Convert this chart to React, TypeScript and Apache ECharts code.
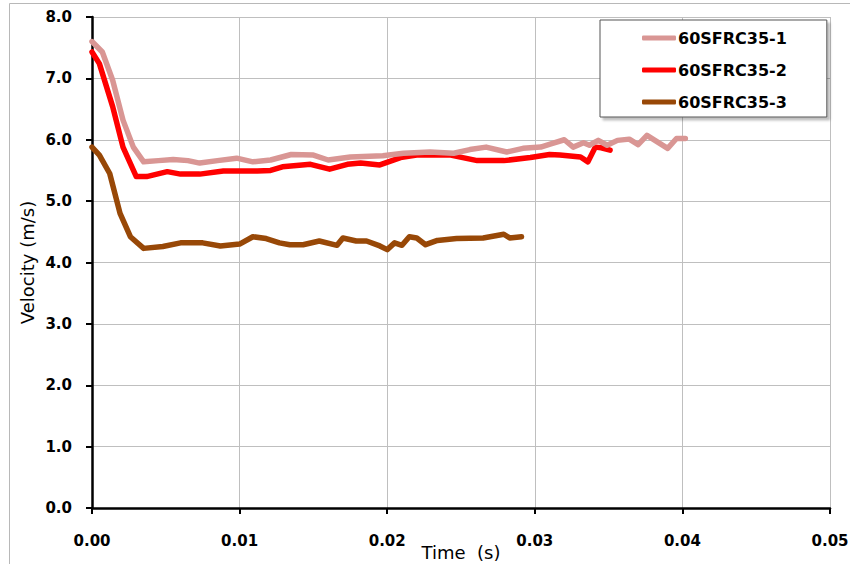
import React, { useEffect, useRef } from "react";
import * as echarts from "echarts";

const seriesNames = ["60SFRC35-1", "60SFRC35-2", "60SFRC35-3"];
const seriesColors = ["#D99694", "#FF0000", "#984807"];

const time1 = [0, 0.0007, 0.0014, 0.0021, 0.0028, 0.0035, 0.0045, 0.0055, 0.0065, 0.0073, 0.0085, 0.0098, 0.0109, 0.0121, 0.0135, 0.015, 0.016, 0.0175, 0.0197, 0.0211, 0.0229, 0.0245, 0.0256, 0.0267, 0.0281, 0.0292, 0.0304, 0.0312, 0.032, 0.0326, 0.0333, 0.0337, 0.0343, 0.0349, 0.0356, 0.0364, 0.037, 0.0376, 0.039, 0.0396, 0.0402];
const vel1 = [7.6, 7.43, 6.97, 6.32, 5.88, 5.64, 5.66, 5.68, 5.66, 5.62, 5.66, 5.7, 5.64, 5.67, 5.76, 5.75, 5.67, 5.72, 5.74, 5.78, 5.8, 5.78, 5.84, 5.88, 5.8, 5.86, 5.88, 5.94, 6.0, 5.88, 5.95, 5.91, 5.99, 5.91, 5.99, 6.01, 5.92, 6.07, 5.86, 6.02, 6.02];

const time2 = [0, 0.0005, 0.0014, 0.0021, 0.003, 0.0037, 0.0051, 0.006, 0.0073, 0.0089, 0.0112, 0.0121, 0.0129, 0.0148, 0.0161, 0.0173, 0.0182, 0.0195, 0.0209, 0.022, 0.0243, 0.0261, 0.0279, 0.0297, 0.031, 0.0317, 0.0331, 0.0336, 0.0341, 0.0345, 0.0351];
const vel2 = [7.43, 7.24, 6.54, 5.88, 5.4, 5.4, 5.48, 5.44, 5.44, 5.49, 5.49, 5.5, 5.56, 5.6, 5.52, 5.6, 5.62, 5.59, 5.71, 5.75, 5.75, 5.66, 5.66, 5.71, 5.76, 5.75, 5.72, 5.64, 5.88, 5.87, 5.83];

const time3 = [0, 0.0005, 0.0012, 0.0019, 0.0026, 0.0035, 0.0048, 0.006, 0.0075, 0.0087, 0.01, 0.0109, 0.0118, 0.0127, 0.0134, 0.0143, 0.0154, 0.0166, 0.017, 0.0179, 0.0186, 0.0195, 0.02, 0.0205, 0.021, 0.0215, 0.022, 0.0226, 0.0234, 0.0247, 0.0265, 0.0279, 0.0283, 0.0291];
const vel3 = [5.88, 5.75, 5.45, 4.8, 4.42, 4.23, 4.26, 4.32, 4.32, 4.27, 4.3, 4.42, 4.39, 4.32, 4.29, 4.29, 4.35, 4.28, 4.4, 4.35, 4.35, 4.27, 4.21, 4.32, 4.28, 4.42, 4.4, 4.29, 4.36, 4.39, 4.4, 4.46, 4.4, 4.42];

const xTitle = "Time  (s)";
const yTitle = "Velocity (m/s)";

const pairs = (t: number[], v: number[]) => t.map((x, i) => [x, v[i]]);

export default function App() {
  const ref = useRef<HTMLDivElement>(null);
  useEffect(() => {
    if (!ref.current) return;
    const chart = echarts.init(ref.current, null, { renderer: "svg" });
    const times = [time1, time2, time3];
    const vels = [vel1, vel2, vel3];
    const font = "DejaVu Sans";
    chart.setOption({
      animation: false,
      backgroundColor: "#ffffff",
      graphic: [
        {
          type: "rect",
          shape: { x: 9.5, y: 3.5, width: 860, height: 580 },
          style: { fill: "none", stroke: "#b8b8b8", lineWidth: 1 },
          silent: true,
          z: -1,
        },
      ],
      grid: { left: 92, right: 20, top: 17, bottom: 56, containLabel: false, outerBoundsMode: "none" },
      legend: {
        orient: "vertical",
        left: 600,
        top: 20,
        data: seriesNames,
        icon: "roundRect",
        itemWidth: 34,
        itemHeight: 5,
        itemGap: 14,
        padding: [9, 40, 6, 42],
        borderColor: "#555555",
        borderWidth: 1,
        backgroundColor: "#ffffff",
        shadowColor: "rgba(0,0,0,0.25)",
        shadowOffsetX: 3,
        shadowOffsetY: 3,
        shadowBlur: 2,
        textStyle: { fontFamily: font, fontWeight: "bold", fontSize: 16, color: "#000", padding: [0, 0, 0, -3], lineHeight: 18 },
      },
      xAxis: {
        type: "value",
        min: 0,
        max: 0.05,
        interval: 0.01,
        name: xTitle,
        nameLocation: "middle",
        nameGap: 35,
        nameMoveOverlap: false,
        nameTextStyle: { fontFamily: font, fontSize: 18, color: "#000" },
        axisLine: { show: true, onZero: false, lineStyle: { color: "#000", width: 2.5 } },
        axisTick: { show: true, length: 6, inside: false, lineStyle: { color: "#000", width: 2 } },
        axisLabel: {
          fontFamily: font,
          fontWeight: "bold",
          fontSize: 15,
          color: "#000",
          margin: 25,
          formatter: (v: number) => v.toFixed(2),
        },
        splitLine: { show: true, lineStyle: { color: "#bfbfbf", width: 1 } },
      },
      yAxis: {
        type: "value",
        min: 0,
        max: 8,
        interval: 1,
        name: yTitle,
        nameLocation: "middle",
        nameGap: 56,
        nameRotate: 90,
        nameMoveOverlap: false,
        nameTextStyle: { fontFamily: font, fontSize: 18, color: "#000" },
        axisLine: { show: true, onZero: false, lineStyle: { color: "#000", width: 2.5 } },
        axisTick: { show: true, length: 6, inside: false, lineStyle: { color: "#000", width: 2 } },
        axisLabel: {
          fontFamily: font,
          fontWeight: "bold",
          fontSize: 15,
          color: "#000",
          margin: 20,
          formatter: (v: number) => v.toFixed(1),
        },
        splitLine: { show: true, lineStyle: { color: "#bfbfbf", width: 1 } },
      },
      series: seriesNames.map((name, i) => ({
        name,
        type: "line",
        data: pairs(times[i], vels[i]),
        symbol: "none",
        smooth: false,
        color: seriesColors[i],
        lineStyle: { color: seriesColors[i], width: 5.5, join: "round", cap: "round" },
        z: 3 - i,
      })),
    });
    return () => chart.dispose();
  }, []);
  return <div ref={ref} style={{ position: "fixed", left: 0, top: 0, width: 850, height: 564 }} />;
}
